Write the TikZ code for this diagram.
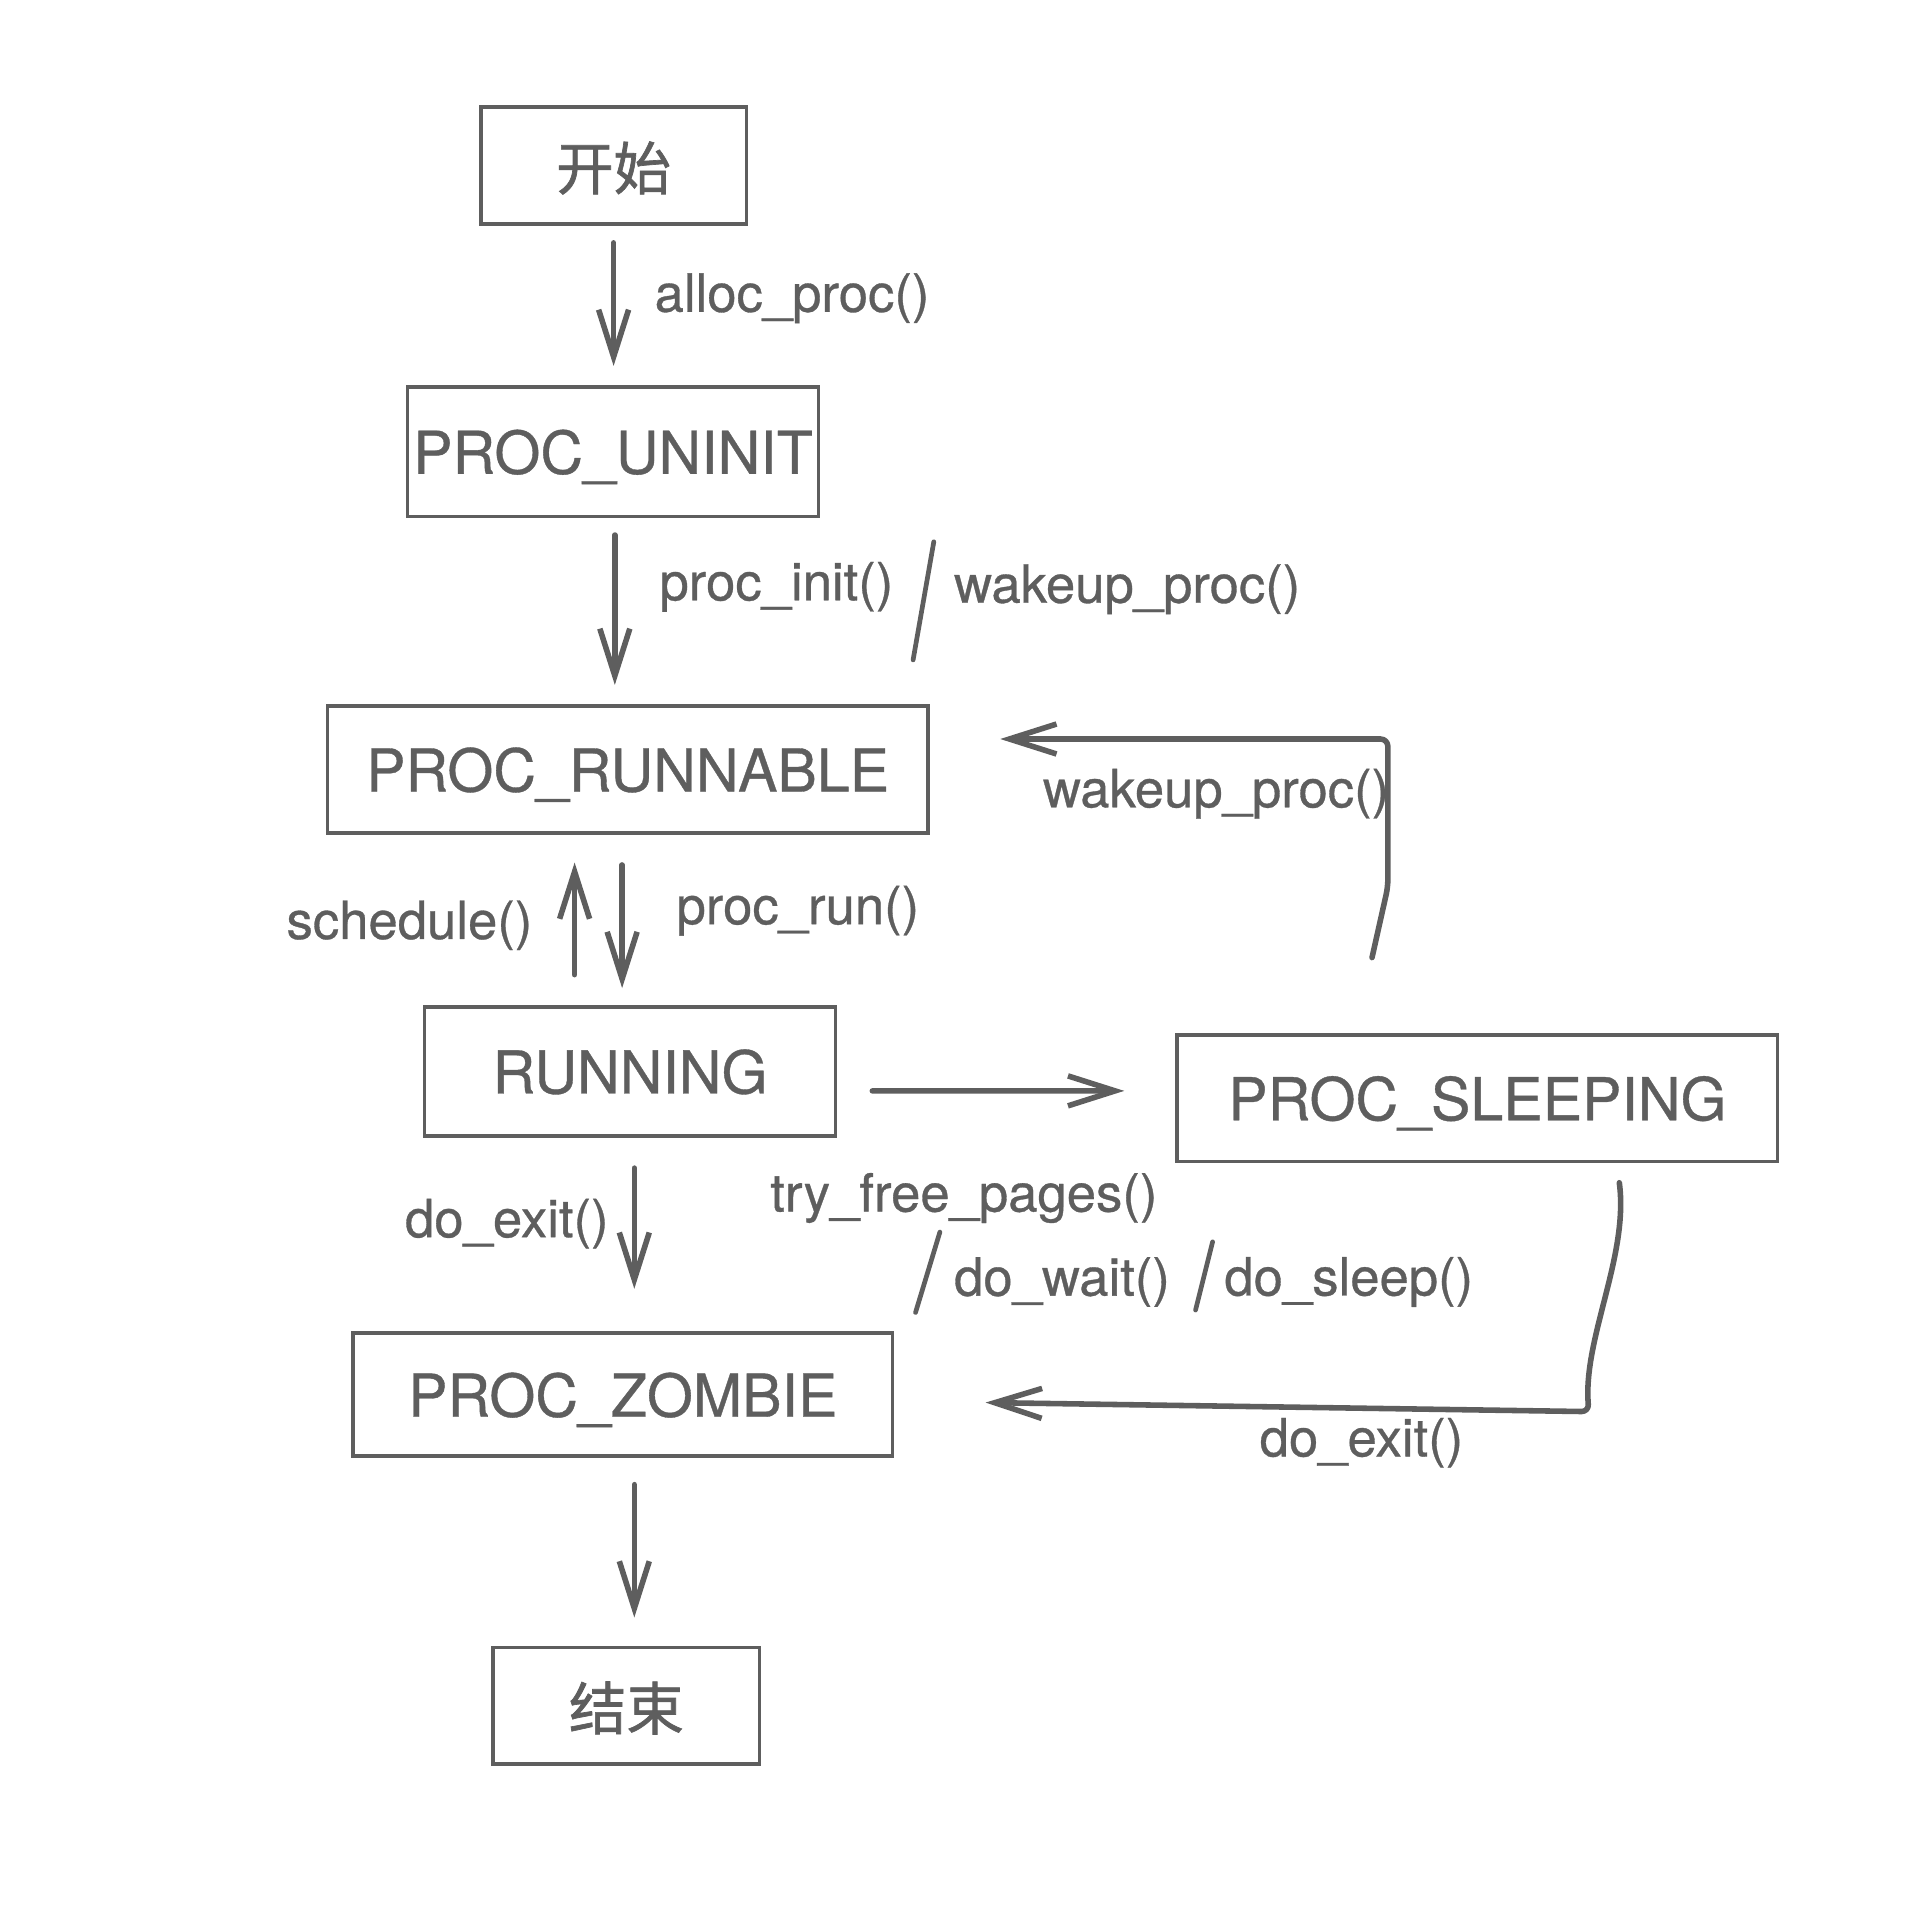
\documentclass[tikz,border=0pt]{standalone}
\usepackage{fontspec}
\setmainfont{TeX Gyre Heros}[FakeBold=0.6]
\newfontfamily\cjk{Noto Sans CJK SC}[FakeBold=1.2]
\usepackage{tikz}
\usetikzlibrary{arrows.meta}
\definecolor{ink}{HTML}{5E5E5E}

\begin{document}
\begin{tikzpicture}[x=0.01cm, y=-0.01cm,
  state/.style={draw=ink, line width=0.8pt, text=ink, inner sep=0pt, text depth=0pt, font=\fontsize{13.8}{16}\selectfont},
  cjkstate/.style={state, font=\cjk\fontsize{13.4}{16}\selectfont},
  lbl/.style={text=ink, inner sep=0pt, anchor=west, font=\fontsize{12.3}{14}\selectfont},
  flow/.style={draw=ink, line width=1.3pt, line cap=round, line join=round,
    -{Straight Barb[length=11pt,width=7pt]}, shorten <=0.14cm, shorten >=0.16cm},
  loopback/.style={flow, shorten <=0pt, shorten >=0pt, rounded corners=0.06cm},
  slash/.style={draw=ink, line width=1.1pt, line cap=round}]
  % Canvas
  \fill[white] (0,0) rectangle (1568,1568);
  \useasboundingbox (0,0) rectangle (1568,1568);
  % States
  \node[cjkstate, minimum width=2.18cm, minimum height=0.96cm] (start) at (504,136) {开始};
  \node[state, minimum width=3.37cm, minimum height=1.06cm] (uninit) at (503.5,371) {PROC\_UNINIT};
  \node[state, minimum width=4.93cm, minimum height=1.04cm] (runnable) at (515.5,632) {PROC\_RUNNABLE};
  \node[state, minimum width=3.37cm, minimum height=1.06cm] (running) at (517.5,880) {RUNNING};
  \node[state, minimum width=4.93cm, minimum height=1.04cm] (sleeping) at (1213.5,902) {PROC\_SLEEPING};
  \node[state, minimum width=4.43cm, minimum height=1.01cm] (zombie) at (511.5,1145.5) {PROC\_ZOMBIE};
  \node[cjkstate, minimum width=2.19cm, minimum height=0.96cm] (finish) at (514.5,1401) {结束};
  % Transitions
  \draw[flow] (start.south) -- (start.south |- uninit.north);
  \draw[flow] ([xshift=0.015cm]uninit.south) -- ([xshift=0.015cm]uninit.south |- runnable.north);
  \draw[flow, shorten <=0.25cm, shorten >=0.23cm] ([xshift=-0.435cm]runnable.south |- running.north) -- ([xshift=-0.435cm]runnable.south);
  \draw[flow, shorten <=0.25cm, shorten >=0.14cm] ([xshift=-0.045cm]runnable.south) -- ([xshift=-0.045cm]runnable.south |- running.north);
  \draw[flow, shorten <=0.29cm, shorten >=0.42cm] ([yshift=-0.16cm]running.east) -- ([yshift=0.06cm]sleeping.west);
  \draw[loopback] ([xshift=-0.865cm,yshift=0.62cm]sleeping.north) -- ++(13,-58) |- ([xshift=0.58cm,yshift=0.25cm]runnable.east);
  \draw[flow, shorten <=0.25cm, shorten >=0.35cm] ([xshift=0.035cm]running.south) -- ([xshift=0.035cm]running.south |- zombie.north);
  \draw[loopback] ([xshift=1.165cm,yshift=-0.16cm]sleeping.south) .. controls +(8,60) and +(-5,-60) .. ++(-25,188) -- ([xshift=0.75cm,yshift=-0.065cm]zombie.east);
  \draw[flow, shorten <=0.22cm, shorten >=0.23cm] ([xshift=0.095cm]zombie.south) -- ([xshift=0.095cm]zombie.south |- finish.north);
  % Labels
  \node[lbl] (lalloc) at (537,245) {alloc\_proc()};
  \node[lbl] (linit) at (541,482) {proc\_init()};
  \node[lbl] (lwake) at (783,484) {wakeup\_proc()};
  \node[lbl, anchor=east] (lsched) at (438,760) {schedule()};
  \node[lbl] (lrun) at (555,748) {proc\_run()};
  \node[lbl] (lwakeback) at (856,652) {wakeup\_proc()};
  \node[lbl] (lexit) at (332,1005) {do\_exit()};
  \node[lbl] (lfree) at (632,984) {try\_free\_pages()};
  \node[lbl] (lwait) at (783,1053) {do\_wait()};
  \node[lbl] (lsleep) at (1005,1053) {do\_sleep()};
  \node[lbl] (lexitback) at (1034,1185) {do\_exit()};
  % Separators
  \draw[slash] (767,445) -- (750,542);
  \draw[slash] (772,1012) -- (752,1078);
  \draw[slash] (996,1020) -- (982,1076);
\end{tikzpicture}
\end{document}
